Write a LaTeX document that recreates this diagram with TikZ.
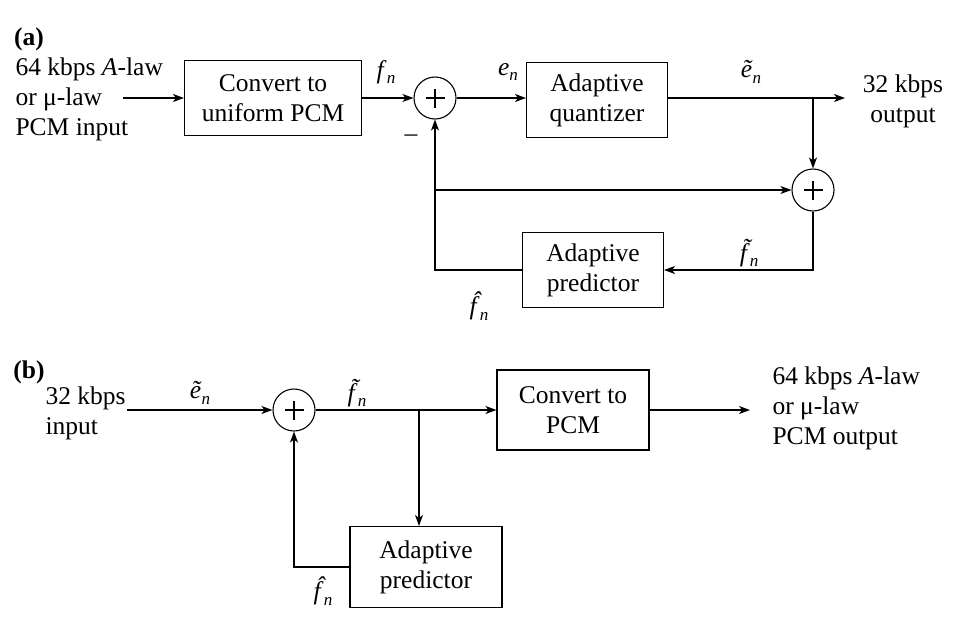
\documentclass[tikz,border=0pt]{standalone}
\usepackage{fontspec}
\setmainfont{Liberation Serif}
\usetikzlibrary{arrows.meta}
\newcommand{\sgl}[1]{\textit{#1}\raisebox{-0.22em}{\fontsize{17}{17}\selectfont\textit{n}}}
\newcommand{\accf}[1]{\rlap{\hspace{0.1em}\raisebox{0.2em}{\textit{\char"#1}}}\textit{f}}
\begin{document}
\begin{tikzpicture}[x=1pt,y=-1pt,
  font=\fontsize{25.5}{30}\selectfont,
  line width=1.1pt,
  >={Stealth[length=11pt,width=8pt,inset=3pt]},
  blk/.style={draw, align=center, inner sep=0pt},
  sumc/.style={draw, circle, minimum size=42pt, inner sep=0pt,
    path picture={\draw[line width=1.2pt] ([xshift=-9.5pt]path picture bounding box.center) -- ([xshift=9.5pt]path picture bounding box.center)
      ([yshift=-9.5pt]path picture bounding box.center) -- ([yshift=9.5pt]path picture bounding box.center);}},
  lbl/.style={inner sep=0pt},
  txt/.style={align=left, inner sep=0pt, anchor=north west}]
\useasboundingbox (0,0) rectangle (973,635);

% ---------- (a) ----------
\node[lbl, font=\fontsize{25.5}{30}\selectfont\bfseries] (la) at (29,39) {(a)};
\node[txt] (intext) at (15,57) {64 kbps \textit{A}-law\\or μ-law\\PCM input};
\coordinate (in) at (123,98);
\node[blk, minimum width=177pt, minimum height=75pt] (conv) at (273,98) {Convert to\\uniform PCM};
\node[sumc] (s1) at (435,98) {};
\node[blk, minimum width=141pt, minimum height=75pt] (q) at (597,100) {Adaptive\\quantizer};
\coordinate (j0) at (813,98);
\coordinate (out) at (845,98);
\node[align=center, inner sep=0pt] (outtext) at (903,101) {32 kbps\\output};
\node[sumc] (s2) at (813,190) {};
\coordinate (j1) at (435,190);
\node[blk, minimum width=141pt, minimum height=75pt] (pa) at (593,270) {Adaptive\\predictor};

\draw[->] (in) -- (conv.west |- in);
\draw[->] (conv.east |- s1) -- (s1);
\draw[->] (s1) -- (q.west |- s1);
\draw[->] (q.east |- out) -- (out);
\draw[->] (j0) -- (s2);
\draw[->] (s2) |- (pa);
\draw[->] (pa) -| (s1);
\draw[->] (j1) -- (s2);

\node[lbl] (fn) at (386,72) {\sgl{f}};
\node[lbl] (en) at (508,72) {\sgl{e}};
\node[lbl] (etn) at (751,72) {\sgl{\~{e}}};
\node[lbl] (minus) at (411,138) {–};
\node[lbl] (ftn) at (749,253) {\sgl{\accf{02DC}}};
\node[lbl] (fhn) at (479,306) {\sgl{\accf{02C6}}};

% ---------- (b) ----------
\node[lbl, font=\fontsize{25.5}{30}\selectfont\bfseries] (lb) at (29,372) {(b)};
\node[txt] (intext2) at (45,386) {32 kbps\\input};
\coordinate (in2) at (127,410);
\node[sumc] (s3) at (294,410) {};
\coordinate (j2) at (419,410);
\node[blk, minimum width=152pt, minimum height=80pt] (cp) at (573,410) {Convert to\\PCM};
\coordinate (out2) at (750,410);
\node[txt] (outtext2) at (772,366) {64 kbps \textit{A}-law\\or μ-law\\PCM output};
\node[blk, minimum width=152pt, minimum height=81pt] (pb) at (426,567) {Adaptive\\predictor};

\draw[->] (in2) -- (s3);
\draw[->] (s3) -- (cp);
\draw[->] (cp) -- (out2);
\draw[->] (j2) -- (j2 |- pb.north);
\draw[->] (pb) -| (s3);

\node[lbl] (etn2) at (200,393) {\sgl{\~{e}}};
\node[lbl] (ftn2) at (357,393) {\sgl{\accf{02DC}}};
\node[lbl] (fhn2) at (323,591) {\sgl{\accf{02C6}}};
\end{tikzpicture}
\end{document}
